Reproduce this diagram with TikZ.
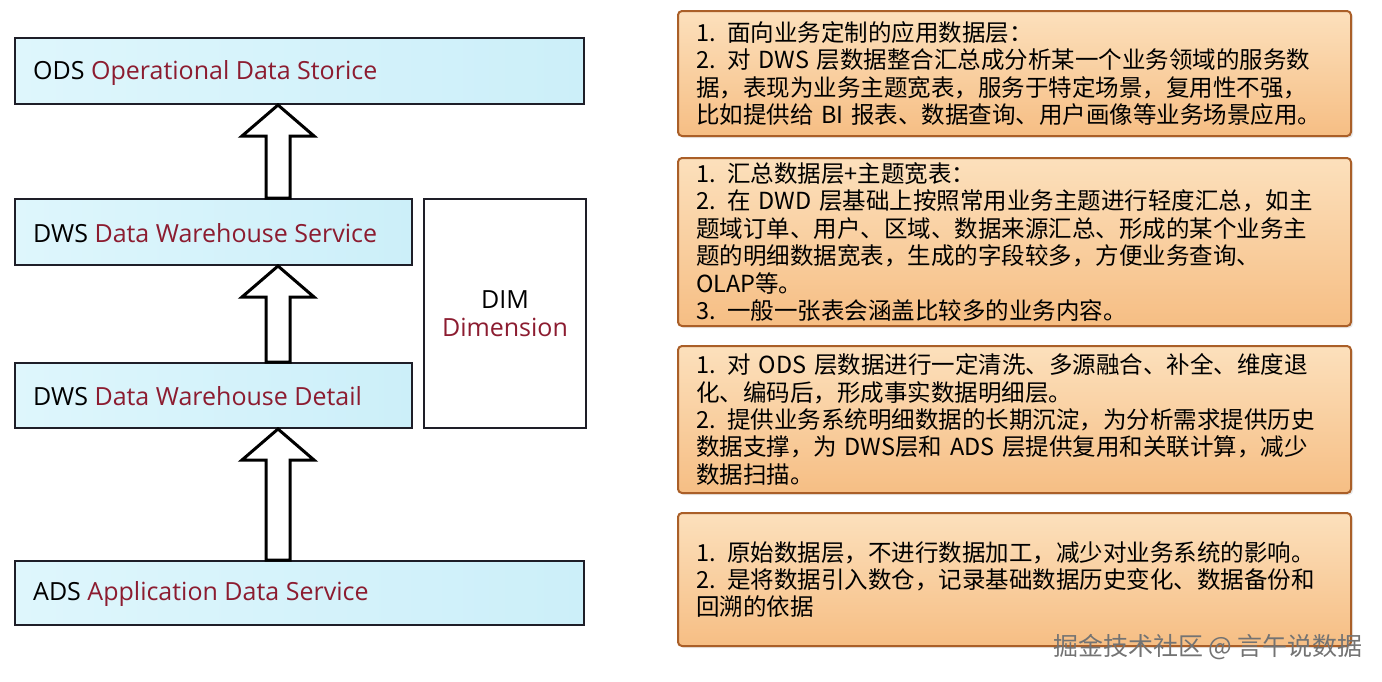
\documentclass[tikz,border=0pt]{standalone}
\usepackage{fontspec}
\setmainfont{Open Sans}
\newfontfamily\cjk{Noto Sans CJK SC}
\usetikzlibrary{calc,shadows}
\definecolor{darkred}{RGB}{140,28,48}
\definecolor{boxblue}{RGB}{204,239,249}
\definecolor{boxblueL}{RGB}{222,246,252}
\definecolor{orangeT}{RGB}{252,224,188}
\definecolor{orangeB}{RGB}{246,190,132}
\definecolor{orangeD}{RGB}{170,95,40}
\definecolor{edgecol}{RGB}{30,30,40}
\begin{document}
\begin{tikzpicture}[x=1pt,y=-1pt,
 layer/.style={draw=edgecol, line width=2pt, left color=boxblueL, right color=boxblue, minimum height=66pt, anchor=north west, inner sep=0pt},
 lbl/.style={anchor=west, font=\fontsize{25}{28}\selectfont, inner sep=0pt},
 note/.style={draw=orangeD, line width=2pt, rounded corners=4pt, top color=orangeT, bottom color=orangeB, anchor=north west, minimum width=673pt, text width=637pt, inner xsep=18pt, align=left, font=\cjk\fontsize{23.5}{27.4}\selectfont, drop shadow={opacity=0.18, shadow xshift=2pt, shadow yshift=-2pt}},
 hollow/.style={draw=black, line width=3pt, fill=white, line join=miter}
]
\useasboundingbox (0,0) rectangle (1382,681);

% left layer boxes
\node[layer, minimum width=569pt] (ods) at (14,37) {};
\node[layer, minimum width=397pt] (dws) at (14,198) {};
\node[layer, minimum width=397pt, minimum height=65pt] (dwd) at (14,362) {};
\node[layer, minimum width=569pt, minimum height=64pt] (ads) at (14,560) {};
\node[draw=edgecol, line width=2pt, fill=white, minimum width=162pt, minimum height=229pt, anchor=north west, align=center, font=\fontsize{25}{28}\selectfont] (dim) at (423,198) {DIM\\\textcolor{darkred}{Dimension}};

\node[lbl] (odst) at ($(ods.west)+(19,2)$) {ODS \textcolor{darkred}{Operational Data Storice}};
\node[lbl] (dwst) at ($(dws.west)+(19,1)$) {DWS \textcolor{darkred}{Data Warehouse Service}};
\node[lbl] (dwdt) at ($(dwd.west)+(19,1)$) {DWS \textcolor{darkred}{Data Warehouse Detail}};
\node[lbl] (adst) at ($(ads.west)+(19,1)$) {ADS \textcolor{darkred}{Application Data Service}};

% hollow arrows
\coordinate (ax) at (278,0);
\foreach \lo/\hi in {ads/dwd, dwd/dws, dws/ods} {
  \coordinate (t) at (\hi.south -| ax);
  \coordinate (b) at (\lo.north -| ax);
  \draw[hollow] (t) -- ++(36,31) -- ++(-24,0) -- ($(b)+(12,0)$) -- ($(b)+(-12,0)$) -- ($(t)+(-12,31)$) -- ++(-24,0) -- cycle;
}

% right notes
\node[note, minimum height=125pt] (n1) at (677,10) {1. 面向业务定制的应用数据层：\\
2. 对 DWS 层数据整合汇总成分析某一个业务领域的服务数\\
据，表现为业务主题宽表，服务于特定场景，复用性不强，\\
比如提供给 BI 报表、数据查询、用户画像等业务场景应用。};
\node[note, minimum height=168pt] (n2) at (677,157) {1. 汇总数据层+主题宽表：\\
2. 在 DWD 层基础上按照常用业务主题进行轻度汇总，如主\\
题域订单、用户、区域、数据来源汇总、形成的某个业务主\\
题的明细数据宽表，生成的字段较多，方便业务查询、\\
OLAP等。\\
3. 一般一张表会涵盖比较多的业务内容。};
\node[note, minimum height=147pt] (n3) at (677,345) {1. 对 ODS 层数据进行一定清洗、多源融合、补全、维度退\\
化、编码后，形成事实数据明细层。\\
2. 提供业务系统明细数据的长期沉淀，为分析需求提供历史\\
数据支撑，为 DWS层和 ADS 层提供复用和关联计算，减少\\
数据扫描。};
\node[note, minimum height=133pt] (n4) at (677,512) {1. 原始数据层，不进行数据加工，减少对业务系统的影响。\\
2. 是将数据引入数仓，记录基础数据历史变化、数据备份和\\
回溯的依据};

\node[font=\cjk\fontsize{25}{25}\selectfont, text=black!55, inner sep=0pt] (wm) at (1208,647) {掘金技术社区 @ 言午说数据};
\end{tikzpicture}
\end{document}
